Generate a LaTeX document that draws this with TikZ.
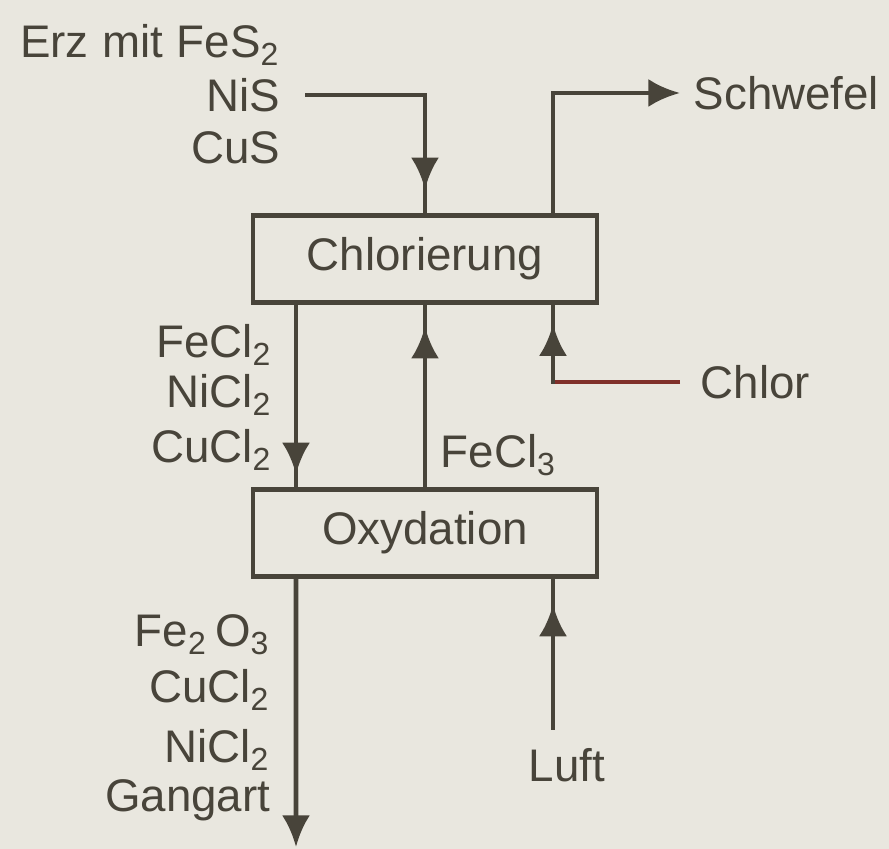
\documentclass[tikz,border=0pt]{standalone}
\usepackage{fontspec}
\setmainfont{Liberation Sans}
\usepackage{xcolor}
\definecolor{ink}{RGB}{72, 68, 58}
\definecolor{paper}{RGB}{233, 231, 223}
\definecolor{chlorred}{RGB}{128, 48, 42}
\usetikzlibrary{arrows.meta, decorations.markings}

\begin{document}
\begin{tikzpicture}[
    >={Latex[length=9pt, width=8pt]},
    stage/.style={draw=ink, line width=1.4pt, minimum width=3.44cm, minimum height=0.87cm, text=ink, font=\fontsize{13}{15}\selectfont},
    flow/.style={color=ink, line width=1.4pt},
    midarrow/.style={postaction={decorate}, decoration={markings, mark=at position #1 with {\arrow{Latex[length=9pt, width=8pt]}}}},
    substance/.style={text=ink, font=\fontsize{13}{15}\selectfont, inner sep=2pt}
]

% === Hintergrund ===
\useasboundingbox (0, 0) rectangle (8.89, 8.49);
\fill[paper] (0, 0) rectangle (8.89, 8.49);

% === Stufen ===
\node[stage] (chlorbox) at (4.25, 5.90) {Chlorierung};
\node[stage] (oxbox) at (4.25, 3.16) {Oxydation};

% === Stoffe ===
\node[substance, anchor=east] (erz) at (2.88, 8.04) {Erz\hspace{0.3em}mit\hspace{0.3em}FeS\textsubscript{2}};
\node[substance, anchor=east] (nis) at (2.88, 7.54) {NiS};
\node[substance, anchor=east] (cus) at (2.88, 7.01) {CuS};
\node[substance, anchor=west] (schwefel) at (6.86, 7.56) {Schwefel};
\node[substance, anchor=west] (chlor) at (6.93, 4.67) {Chlor};
\node[substance, anchor=east] (fecl2) at (2.80, 5.04) {FeCl\textsubscript{2}};
\node[substance, anchor=east] (nicl2a) at (2.80, 4.54) {NiCl\textsubscript{2}};
\node[substance, anchor=east] (cucl2a) at (2.80, 3.99) {CuCl\textsubscript{2}};
\node[substance, anchor=west] (fecl3) at (4.33, 3.94) {FeCl\textsubscript{3}};
\node[substance, anchor=east] (fe2o3) at (2.78, 2.14) {Fe\textsubscript{2}\,O\textsubscript{3}};
\node[substance, anchor=east] (cucl2b) at (2.78, 1.59) {CuCl\textsubscript{2}};
\node[substance, anchor=east] (nicl2b) at (2.78, 0.99) {NiCl\textsubscript{2}};
\node[substance, anchor=east] (gangart) at (2.78, 0.49) {Gangart};
\node[substance] (luft) at (5.67, 0.84) {Luft};

\coordinate (erzin) at (3.05, 7.54);
\coordinate (chlorin) at (6.80, 4.67);
\coordinate (luftin) at (5.53, 1.19);
\coordinate (rest) at (2.96, 0.02);

% === Stroeme ===
\draw[flow, midarrow=0.9] (erzin) -| (chlorbox.north);
\draw[flow, ->] ([xshift=1.28cm]chlorbox.north) |- ([xshift=-0.06cm]schwefel.west);
\draw[flow, draw=chlorred] (chlorin) -- (chlorin -| luftin);
\draw[flow, line cap=rect, midarrow=0.75] (chlorin -| luftin) -- ([xshift=1.28cm]chlorbox.south);
\draw[flow, midarrow=0.93] ([xshift=-1.29cm]chlorbox.south) -- ([xshift=-1.29cm]oxbox.north);
\draw[flow, midarrow=0.88] (oxbox.north) -- (chlorbox.south);
\draw[flow, midarrow=0.83] (luftin) -- ([xshift=1.28cm]oxbox.south);
\draw[flow, ->] ([xshift=-1.29cm]oxbox.south) -- (rest);

\end{tikzpicture}
\end{document}
